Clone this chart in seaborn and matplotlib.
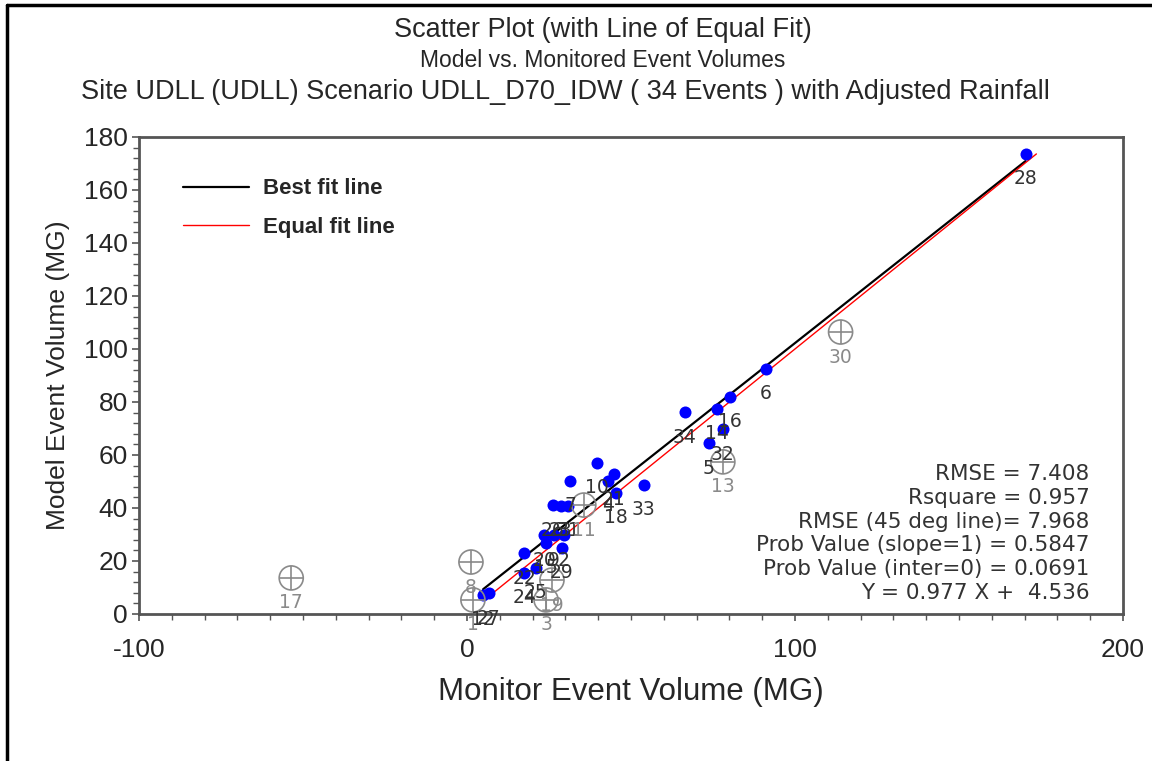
import numpy as np
import pandas as pd
import matplotlib
matplotlib.use("Agg")
import matplotlib.pyplot as plt
from matplotlib.lines import Line2D
from matplotlib.ticker import MultipleLocator
import seaborn as sns

# ---------------------------------------------------------------
# Datos (volumenes en MG)
# ---------------------------------------------------------------
# eventos usados en el ajuste (puntos azules)
ev_labels = ["28", "6", "16", "14", "32", "5", "34", "10", "21", "7", "4", "33", "18",
             "26", "23", "31", "20", "9", "2", "15", "29", "22", "24", "25", "12", "27"]
ev_monitor = [170.3, 91.1, 80.1, 76.1, 78.0, 73.7, 66.4, 39.6, 44.8, 31.4, 42.9, 53.9, 45.4,
              26.2, 28.6, 30.8, 23.5, 26.5, 29.5, 24.1, 28.9, 17.4, 17.4, 21.0, 4.9, 6.7]
ev_model = [173.6, 92.5, 81.9, 77.4, 69.8, 64.5, 76.2, 57.0, 52.8, 50.2, 50.2, 48.7, 45.7,
            41.1, 40.8, 40.8, 29.8, 29.8, 29.8, 26.8, 24.9, 23.0, 15.5, 17.4, 7.2, 7.9]

# eventos excluidos (circulos grises con cruz)
exc_labels = ["17", "8", "30", "13", "11", "1", "19", "3"]
exc_monitor = [-53.6, 1.2, 113.9, 78.0, 35.6, 1.8, 25.9, 24.1]
exc_model = [13.6, 19.6, 106.4, 57.4, 41.1, 5.3, 12.8, 5.3]

# estadisticos del ajuste
slope = 0.977
intercept = 4.536
stats_lines = ["RMSE = 7.408",
               "Rsquare = 0.957",
               "RMSE (45 deg line)= 7.968",
               "Prob Value (slope=1) = 0.5847",
               "Prob Value (inter=0) = 0.0691",
               "Y = 0.977 X +  4.536"]

titles = ["Scatter Plot (with Line of Equal Fit)",
          "Model vs. Monitored Event Volumes",
          "Site UDLL (UDLL) Scenario UDLL_D70_IDW ( 34 Events ) with Adjusted Rainfall"]

df_ev = pd.DataFrame({"monitor": ev_monitor, "model": ev_model, "label": ev_labels})
df_exc = pd.DataFrame({"monitor": exc_monitor, "model": exc_model, "label": exc_labels})

# lineas de ajuste
x_fit = np.array([df_ev["monitor"].min(), df_ev["monitor"].max()])
df_best = pd.DataFrame({"x": x_fit, "y": slope * x_fit + intercept})
y_eq = np.array([df_ev["model"].min(), df_ev["model"].max()])
df_equal = pd.DataFrame({"x": y_eq, "y": y_eq})

# ---------------------------------------------------------------
# Grafico
# ---------------------------------------------------------------
sns.set_style("white")
plt.rcParams["font.family"] = ["Liberation Sans", "DejaVu Sans"]
plt.rcParams["axes.unicode_minus"] = False

MONO = ["DejaVu Sans"]

fig = plt.figure(figsize=(11.52, 7.61), dpi=100)
ax = fig.add_axes([0.1207, 0.1932, 0.8541, 0.6268])

sns.lineplot(data=df_best, x="x", y="y", color="black", linewidth=1.6, ax=ax,
             label="Best fit line")
sns.lineplot(data=df_equal, x="x", y="y", color="red", linewidth=1.0, ax=ax,
             label="Equal fit line")

sns.scatterplot(data=df_ev, x="monitor", y="model", color="blue", s=75,
                edgecolor="blue", linewidth=0, ax=ax, zorder=3)

# excluidos: circulo + cruz
sns.scatterplot(data=df_exc, x="monitor", y="model", marker="o", s=300,
                facecolor="none", edgecolor="#8a8a8a", linewidth=1.2, ax=ax, zorder=3)
sns.scatterplot(data=df_exc, x="monitor", y="model", marker="+", s=300,
                color="#8a8a8a", linewidth=1.2, ax=ax, zorder=3)

for _, r in df_ev.iterrows():
    ax.annotate(r["label"], (r["monitor"], r["model"]), xytext=(0, -18),
                textcoords="offset points", ha="center", va="center",
                fontsize=13.5, color="#333333", family=MONO)
for _, r in df_exc.iterrows():
    ax.annotate(r["label"], (r["monitor"], r["model"]), xytext=(0, -18),
                textcoords="offset points", ha="center", va="center",
                fontsize=13.5, color="#8a8a8a", family=MONO)

# texto de estadisticos
for i, s in enumerate(stats_lines):
    ax.text(0.966, 0.293 - i * 0.0497, s, transform=ax.transAxes, ha="right",
            va="center", fontsize=15.5, color="#333333", family=MONO)

ax.set_xlim(-100, 200)
ax.set_ylim(0, 180)
ax.xaxis.set_major_locator(MultipleLocator(100))
ax.xaxis.set_minor_locator(MultipleLocator(10))
ax.yaxis.set_major_locator(MultipleLocator(20))
ax.yaxis.set_minor_locator(MultipleLocator(4))
ax.tick_params(axis="both", which="major", direction="out", length=5, width=1.2,
               color="#555555", labelsize=19, pad=3)
ax.tick_params(axis="both", which="minor", direction="out", length=4, width=1.0,
               color="#555555")
ax.tick_params(bottom=True, left=True, which="both")
ax.tick_params(axis="x", pad=12)
for sp in ax.spines.values():
    sp.set_color("#555555")
    sp.set_linewidth(2)

ax.set_xlabel("Monitor Event Volume (MG)", fontsize=22.5, labelpad=11)
ax.set_ylabel("Model Event Volume (MG)", fontsize=19, labelpad=10)

leg = ax.legend(loc="upper left", frameon=False, bbox_to_anchor=(0.024, 0.955),
                handlelength=3.0, handletextpad=0.6, labelspacing=0.8,
                prop={"size": 16, "weight": "bold"})

# titulos
fig.text(0.523, 0.961, titles[0], ha="center", va="center", fontsize=19.5)
fig.text(0.523, 0.921, titles[1], ha="center", va="center", fontsize=16.5)
fig.text(0.491, 0.879, titles[2], ha="center", va="center", fontsize=19.5)

# marco de la figura
fig.add_artist(Line2D([0.0065, 0.0065], [0, 0.994], transform=fig.transFigure,
                      color="black", linewidth=2.5))
fig.add_artist(Line2D([0.0065, 1.0], [0.994, 0.994], transform=fig.transFigure,
                      color="black", linewidth=2.5))

fig.savefig("out.png", dpi=100)
